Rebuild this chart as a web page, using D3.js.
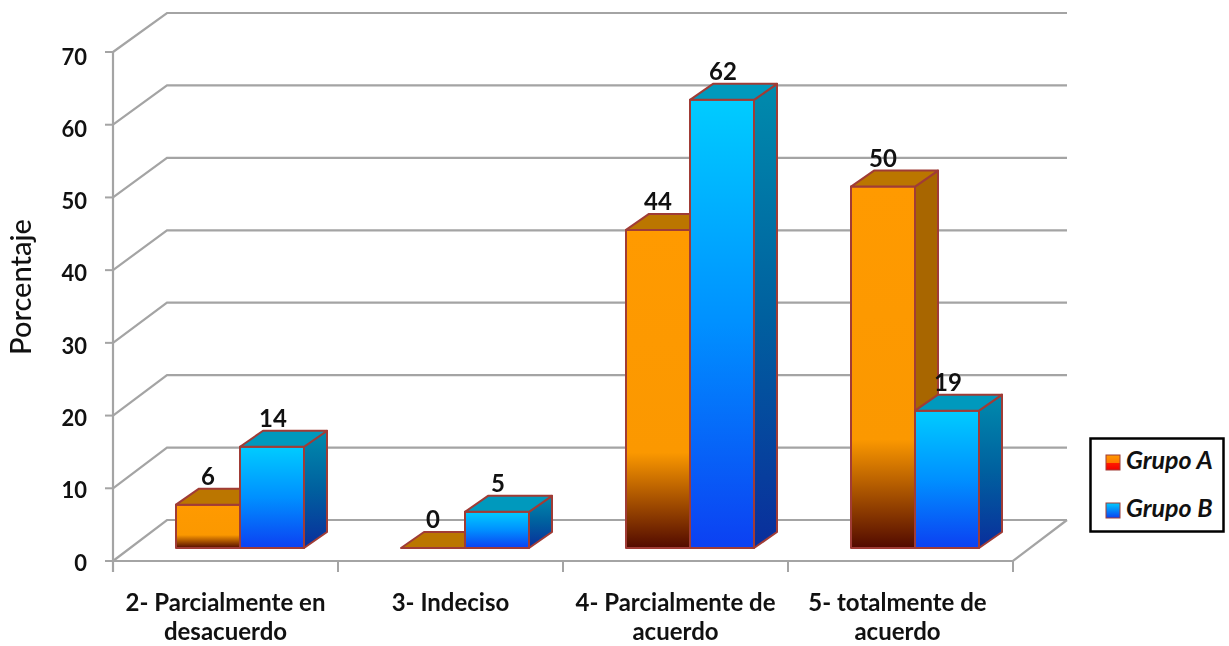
<!DOCTYPE html>
<html><head><meta charset="utf-8">
<script src="https://cdn.jsdelivr.net/npm/d3@7/dist/d3.min.js"></script>
<style>html,body{margin:0;padding:0;background:#fff}svg{display:block;filter:blur(0.6px)}text{font-family:Lato,"Open Sans",sans-serif;font-weight:700;fill:#111}</style>
</head><body><div id="c"></div>
<script>
const categories=[["2- Parcialmente en","desacuerdo"],["3- Indeciso"],["4- Parcialmente de","acuerdo"],["5- totalmente de","acuerdo"]];
const grupoA=[6,0,44,50];
const grupoB=[14,5,62,19];
const seriesNames=["Grupo A","Grupo B"];
const yTicks=[0,10,20,30,40,50,60,70];
const yTitle="Porcentaje";

const W=1229,H=646;
const svg=d3.select("#c").append("svg").attr("width",W).attr("height",H);
const defs=svg.append("defs");
function grad(id,stops){
  const g=defs.append("linearGradient").attr("id",id).attr("x1",0).attr("y1",0).attr("x2",0).attr("y2",1);
  stops.forEach(s=>g.append("stop").attr("offset",s[0]).attr("stop-color",s[1]));
}
grad("fa",[[0,"#ff9a00"],[0.7,"#fb9800"],[1,"#520a00"]]);
grad("sa",[[0,"#a86600"],[1,"#a86600"]]);
grad("fb",[[0,"#00ccff"],[0.5,"#0090ff"],[1,"#0c40f2"]]);
grad("sb",[[0,"#008bad"],[0.5,"#00609f"],[1,"#0a2e9c"]]);
grad("la",[[0,"#ff9a00"],[0.5,"#ff7a00"],[0.55,"#ff1a00"],[1,"#f00000"]]);
grad("lb",[[0,"#00ccff"],[1,"#0c40f2"]]);

const y=d3.scaleLinear().domain([0,70]).range([561,52]);
const yBack=d3.scaleLinear().domain([0,70]).range([520,13]);
const yBar=d3.scaleLinear().domain([0,70]).range([548,42]);
const yLabel=d3.scaleLinear().domain([0,70]).range([565,59]);
const x=d3.scaleBand().domain(d3.range(categories.length)).range([113,1013]);
const gx=d3.scaleBand().domain([0,1]).range([63,191]);
const wallDx=54;
const depth={dx:23,dy:-16};
const grid="#a4a4a4";

const g=svg.append("g");
yTicks.forEach(t=>{
  const yy=y(t), yb=yBack(t);
  g.append("path").attr("d",`M${113},${yy}L${113+wallDx},${yb}L${1013+wallDx},${yb}`)
   .attr("fill","none").attr("stroke",grid).attr("stroke-width",2.2);
  g.append("line").attr("x1",105).attr("x2",113).attr("y1",yy).attr("y2",yy).attr("stroke",grid).attr("stroke-width",2);
  g.append("text").attr("x",87).attr("y",yLabel(t)).attr("text-anchor","end").attr("dominant-baseline","middle").attr("font-size",22).text(t);
});
g.append("line").attr("x1",113).attr("x2",113).attr("y1",y(70)).attr("y2",572).attr("stroke",grid).attr("stroke-width",2.2);
g.append("path").attr("d",`M105,561L1013,561L${1013+wallDx},${yBack(0)}`).attr("fill","none").attr("stroke",grid).attr("stroke-width",2.2);
d3.range(categories.length+1).forEach(i=>{
  const xx=i<categories.length?x(i):x.range()[1];
  g.append("line").attr("x1",xx).attr("x2",xx).attr("y1",561).attr("y2",572).attr("stroke",grid).attr("stroke-width",2);
});

const stroke="#a03c36";
function bar(i,s,v){
  const l=x(i)+gx(s), w=gx.bandwidth(), r=l+w;
  const top=yBar(v), base=yBar(0);
  const d=depth;
  const sg=g.append("g").attr("stroke",stroke).attr("stroke-width",2).attr("stroke-linejoin","round");
  const topCol=s===0?"#bb7600":"#0099bd";
  if(v>0){
    sg.append("path").attr("d",`M${r},${top}L${r+d.dx},${top+d.dy}L${r+d.dx},${base+d.dy}L${r},${base}Z`).attr("fill",`url(#${s===0?"sa":"sb"})`);
    sg.append("rect").attr("x",l).attr("y",top).attr("width",w).attr("height",base-top).attr("fill",`url(#${s===0?"fa":"fb"})`);
  }
  sg.append("path").attr("d",`M${l},${top}L${l+d.dx},${top+d.dy}L${r+d.dx},${top+d.dy}L${r},${top}Z`).attr("fill",topCol);
  g.append("text").attr("x",l+w/2+(s===0?0:1)).attr("y",top+d.dy-4).attr("text-anchor","middle").attr("font-size",24).text(v);
}
categories.forEach((c,i)=>{bar(i,0,grupoA[i]);bar(i,1,grupoB[i]);});

categories.forEach((c,i)=>{
  const cx=x(i)+x.bandwidth()/2-(i===3?3:0);
  c.forEach((t,k)=>g.append("text").attr("x",cx).attr("y",611+k*29).attr("text-anchor","middle").attr("font-size",24).text(t));
});
g.append("text").attr("transform","translate(31,287) rotate(-90)").attr("text-anchor","middle").attr("font-size",29).style("font-weight",500).text(yTitle);

const lg=svg.append("g");
lg.append("rect").attr("x",1090.5).attr("y",438.5).attr("width",133).attr("height",93).attr("fill","#fff").attr("stroke","#000").attr("stroke-width",2.5);
seriesNames.forEach((n,i)=>{
  const ly=455+i*48;
  lg.append("rect").attr("x",1106).attr("y",ly).attr("width",14).attr("height",15).attr("fill",`url(#${i?"lb":"la"})`).attr("stroke",stroke).attr("stroke-width",1);
  lg.append("text").attr("x",1126).attr("y",ly+14).attr("font-size",25).style("font-style","italic").text(n);
});
</script></body></html>
